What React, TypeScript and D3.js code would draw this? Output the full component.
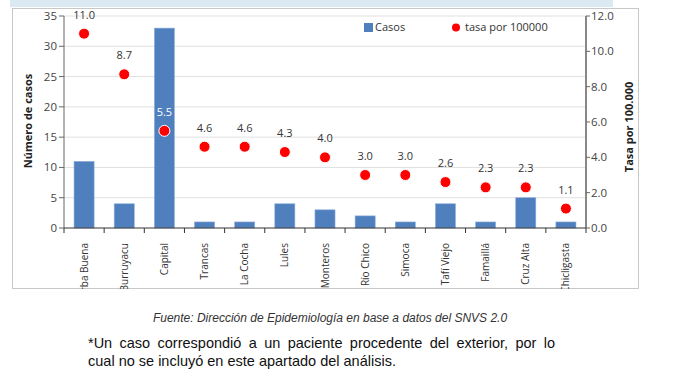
import React, { useEffect, useRef } from "react";
import * as d3 from "d3";

const categories = ["Yerba Buena", "Burruyacu", "Capital", "Trancas", "La Cocha", "Lules", "Monteros", "Río Chico", "Simoca", "Tafí Viejo", "Famaillá", "Cruz Alta", "Chicligasta"];
const casos = [11, 4, 33, 1, 1, 4, 3, 2, 1, 4, 1, 5, 1];
const tasa = [11.0, 8.7, 5.5, 4.6, 4.6, 4.3, 4.0, 3.0, 3.0, 2.6, 2.3, 2.3, 1.1];
const leftTicks = [0, 5, 10, 15, 20, 25, 30, 35];
const rightTicks = [0, 2, 4, 6, 8, 10, 12];

const W = 675, H = 381;
const FONT = "'Open Sans', sans-serif";
const ARIAL = "'Liberation Sans', Arial, sans-serif";

export default function App() {
  const noteRef = useRef<SVGTextElement>(null);
  const x = d3.scaleBand<string>().domain(categories).range([64, 586]).paddingInner(0.5).paddingOuter(0.25);
  const yL = d3.scaleLinear().domain([0, 35]).range([228, 16]);
  const yR = d3.scaleLinear().domain([0, 12]).range([228, 16]);
  const step = x.step();
  const bw = x.bandwidth();
  const boundaries = d3.range(categories.length + 1).map((i) => 64 + i * step);

  useEffect(() => {
    const el = noteRef.current;
    if (!el) return;
    el.setAttribute("word-spacing", "0");
    const natural = el.getComputedTextLength();
    const spaces = (el.textContent || "").split(" ").length - 1;
    const target = 467;
    el.setAttribute("word-spacing", String(Math.max(0, (target - natural) / spaces)));
  }, []);

  return (
    <svg width={W} height={H} style={{ position: "absolute", left: 0, top: 0, background: "#fff" }}>
      <defs>
        <clipPath id="frameClip">
          <rect x={12} y={8} width={627} height={281} />
        </clipPath>
      </defs>
      <rect x={10} y={0} width={603} height={7} fill="#dbeaf2" />
      <rect x={12.5} y={8.5} width={626} height={280} fill="#fff" stroke="#c8c8c8" />

      {leftTicks.filter((t) => t > 0).map((t) => (
        <line key={"g" + t} x1={64} x2={586} y1={yL(t)} y2={yL(t)} stroke="#e0e0e0" />
      ))}

      {categories.map((c, i) => (
        <rect key={"b" + c} x={x(c)} y={yL(casos[i])} width={bw} height={yL(0) - yL(casos[i])} fill="#4f7fbd" stroke="#8fb0dc" strokeWidth={0.6} />
      ))}

      {/* left axis */}
      <line x1={64} x2={64} y1={16} y2={228} stroke="#666" />
      {leftTicks.map((t) => (
        <g key={"lt" + t}>
          <line x1={59} x2={64} y1={yL(t)} y2={yL(t)} stroke="#666" />
          <text x={57} y={yL(t)} dy="0.35em" textAnchor="end" fontFamily={FONT} fontSize={11.5} fill="#444">{t}</text>
        </g>
      ))}
      <text transform={`translate(28,121) rotate(-90)`} textAnchor="middle" dy="0.35em" fontFamily={FONT} fontSize={11} fontWeight="bold" fill="#222">Número de casos</text>

      {/* right axis */}
      <line x1={586} x2={586} y1={16} y2={228} stroke="#888" strokeWidth={2} />
      {rightTicks.map((t) => (
        <g key={"rt" + t}>
          <line x1={586} x2={590} y1={yR(t)} y2={yR(t)} stroke="#666" />
          <text x={591} y={yR(t)} dy="0.35em" textAnchor="start" fontFamily={FONT} fontSize={11.5} fill="#444">{t.toFixed(1)}</text>
        </g>
      ))}
      <text transform={`translate(629,127) rotate(-90)`} textAnchor="middle" dy="0.35em" fontFamily={FONT} fontSize={11} fontWeight="bold" fill="#222">Tasa por 100.000</text>

      {/* bottom axis */}
      <line x1={64} x2={586} y1={228} y2={228} stroke="#333" />
      {boundaries.map((bx, i) => (
        <line key={"bt" + i} x1={bx} x2={bx} y1={228} y2={233} stroke="#333" />
      ))}
      <g clipPath="url(#frameClip)">
        {categories.map((c) => (
          <text key={"xl" + c} transform={`translate(${(x(c) as number) + bw / 2},243) rotate(-90)`} textAnchor="end" dy="0.35em" fontFamily={FONT} fontSize={10} fill="#333">{c}</text>
        ))}
      </g>

      {/* points */}
      {categories.map((c, i) => {
        const cx = (x(c) as number) + bw / 2;
        const cy = yR(tasa[i]);
        const inside = yL(casos[i]) < cy - 18;
        return (
          <g key={"p" + c}>
            <circle cx={cx} cy={cy} r={5.5} fill="#ff0000" stroke="#fff" strokeWidth={1} />
            <text x={cx} y={cy - 15} textAnchor="middle" fontFamily={FONT} fontSize={11} fill={inside ? "#fff" : "#333"}>{tasa[i].toFixed(1)}</text>
          </g>
        );
      })}

      {/* legend */}
      <rect x={364} y={23} width={9} height={9} fill="#4f7fbd" />
      <text x={375} y={27.5} dy="0.35em" fontFamily={FONT} fontSize={11} fill="#333">Casos</text>
      <circle cx={456} cy={27.5} r={4} fill="#ff0000" />
      <text x={465} y={27.5} dy="0.35em" fontFamily={FONT} fontSize={11} fill="#333">tasa por 100000</text>

      {/* captions */}
      <text x={330} y={322} textAnchor="middle" fontFamily={ARIAL} fontStyle="italic" fontSize={12} fill="#333">Fuente: Dirección de Epidemiología en base a datos del SNVS 2.0</text>
      <text ref={noteRef} x={88} y={348} fontFamily={ARIAL} fontSize={14.5} fill="#111">*Un caso correspondió a un paciente procedente del exterior, por lo</text>
      <text x={88} y={366} fontFamily={ARIAL} fontSize={14.5} fill="#111">cual no se incluyó en este apartado del análisis.</text>
    </svg>
  );
}
